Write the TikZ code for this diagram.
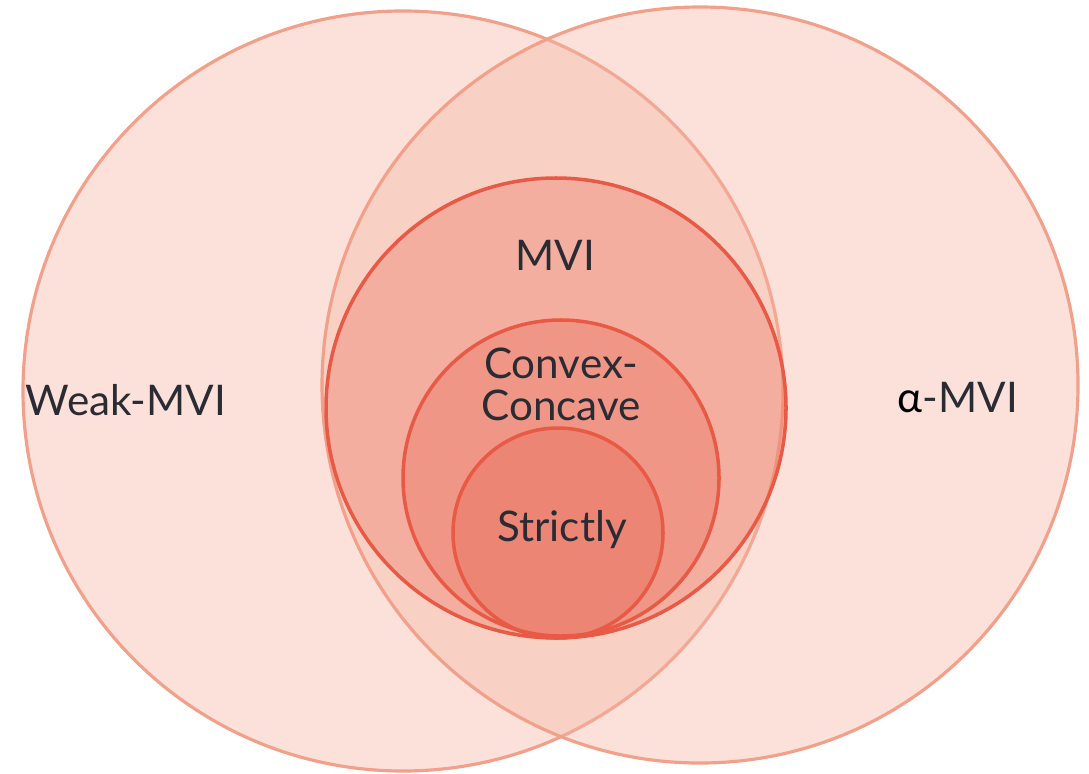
\documentclass[tikz,border=0pt]{standalone}
\usepackage{fontspec}
\setmainfont{Lato}
\definecolor{setfill}{HTML}{F4B5A3}
\definecolor{setline}{HTML}{F2A08A}
\definecolor{subfill}{HTML}{E85A45}
\definecolor{subline}{HTML}{E85A45}
\definecolor{labeltext}{HTML}{2B2B33}
\begin{document}
\begin{tikzpicture}[x=0.01cm, y=-0.01cm,
                    bigset/.style={fill=setfill, fill opacity=0.4, draw=setline, draw opacity=1, line width=0.9pt},
                    subset/.style={fill=subfill, fill opacity=0.28, draw=subline, draw opacity=1, line width=1pt},
                    setname/.style={text=labeltext, font=\fontsize{12}{12}\selectfont, align=center, inner sep=0pt}]
\useasboundingbox (0,0) rectangle (1089,773);
\draw[bigset] (403,391) circle (380);
\draw[bigset] (700,385) circle (378);
\draw[subset] (556,408) circle (230);
\draw[subset] (561,478) circle (158);
\draw[subset] (558,533) circle (105);

\node[setname] (weak) at (126,400) {Weak-MVI};
\node[setname, text=black] (alpha) at (958,398) {α\textcolor{labeltext}{-MVI}};
\node[setname] (mvi) at (555,255) {MVI};
\node[setname] (cc) at (561,384) {Convex-\\Concave};
\node[setname] (strict) at (562,530) {Strictly};
\end{tikzpicture}
\end{document}
